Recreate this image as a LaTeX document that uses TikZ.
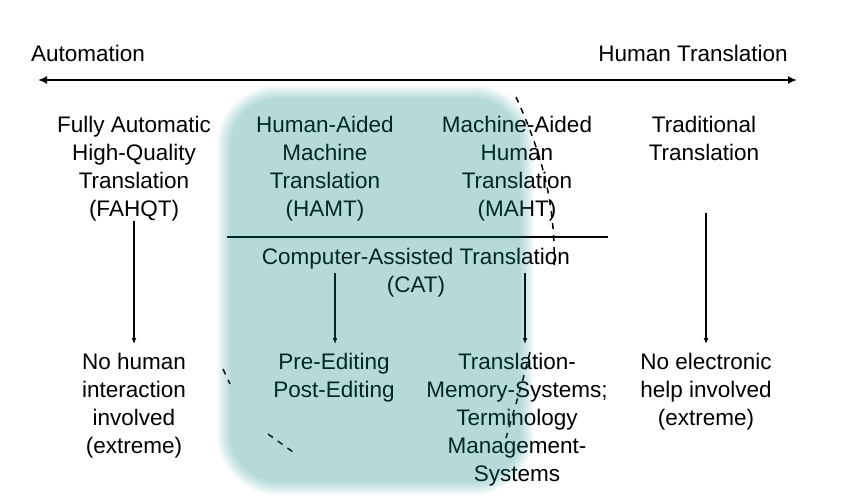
\documentclass[tikz,border=0pt]{standalone}
\usepackage{fontspec}
\setmainfont{Liberation Sans}
\usepackage{tikz}
\usetikzlibrary{arrows.meta}
\definecolor{catShade}{RGB}{15,135,135}
\colorlet{ghostLine}{black}

\begin{document}
\begin{tikzpicture}[
  x=1pt,
  y=-1pt,
  font=\fontsize{22.5}{28}\selectfont,
  every node/.style={
    inner sep=0pt,
    align=center,
    anchor=north
  },
  axis arrow/.style={
    line width=2.2pt,
    {Latex[length=9pt,width=8pt]}-{Latex[length=9pt,width=8pt]}
  },
  down arrow/.style={
    line width=1.2pt,
    -{Latex[length=6pt,width=5pt]},
    shorten >=9pt
  },
  ghost dash/.style={
    draw=ghostLine,
    line width=1.5pt,
    dash pattern=on 6pt off 6pt
  }
]
\useasboundingbox (0,0) rectangle (844,498);
% axis
\node (auto) at (88,45) {Automation};
\node (human) at (693,45) {Human Translation};
\coordinate (axisL) at (38,80);
\coordinate (axisR) at (797,80);
\draw[axis arrow] (axisL) -- (axisR);
% upper row
\node (fahqt) at (134,116) {Fully Automatic\\High-Quality\\Translation\\(FAHQT)};
\node (hamt) at (325,116) {Human-Aided\\Machine\\Translation\\(HAMT)};
\node (maht) at (517,116) {Machine-Aided\\Human\\Translation\\(MAHT)};
\node (trad) at (704,116) {Traditional\\Translation};
% CAT
\coordinate (catL) at (227,237);
\coordinate (catR) at (608,237);
\draw[line width=1.3pt] (catL) -- (catR);
\node (cat) at (416,248) {Computer-Assisted Translation\\(CAT)};
% lower row
\node (noHuman) at (134,353) {No human\\interaction\\involved\\(extreme)};
\node (editing) at (334,353) {Pre-Editing\\Post-Editing};
\node (tmSystems) at (517,353) {Translation-\\Memory-Systems;\\Terminology\\Management-\\Systems};
\node (noHelp) at (706,353) {No electronic\\help involved\\(extreme)};
% arrows
\coordinate (catLeft) at (335,273);
\coordinate (catRight) at (525,273);
\coordinate (tradFoot) at (706,213);
\draw[down arrow] (fahqt.south) -- (fahqt.south |- noHuman.north);
\draw[down arrow] (catLeft) -- (catLeft |- editing.north);
\draw[down arrow] (catRight) -- (catRight |- tmSystems.north);
\draw[down arrow] (tradFoot) -- (tradFoot |- noHelp.north);
% dashed remains
\draw[ghost dash] (516,97) .. controls (540,150) and (556,200) .. (554,268);
\draw[ghost dash] (530,352) .. controls (522,385) and (514,410) .. (506,438);
\draw[ghost dash] (223,369) -- (230,384);
\draw[ghost dash] (268,434) -- (293,452);
% shaded CAT area
\foreach[evaluate=\g as \d using \g*2.5, evaluate=\g as \r using 48+\g*2.5] \g in {0,...,5}
{
  \fill[catShade, fill opacity=0.058, rounded corners=\r pt]
    (230-\d,98-\d) rectangle (521+\d,482+\d);
}
\end{tikzpicture}
\end{document}
